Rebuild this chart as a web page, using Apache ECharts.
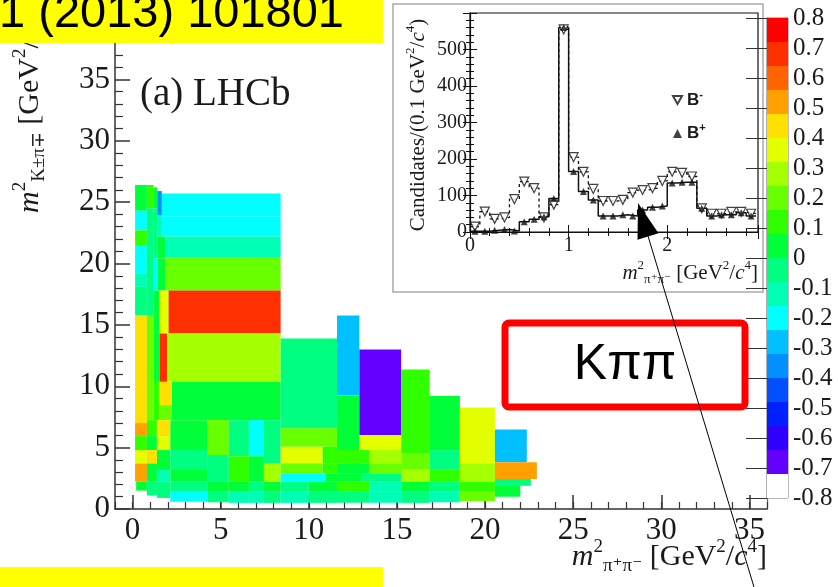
<!DOCTYPE html>
<html>
<head>
<meta charset="utf-8">
<title>LHCb B to K pi pi raw asymmetry</title>
<script src="https://cdn.jsdelivr.net/npm/echarts@6/dist/echarts.min.js"></script>
<style>
  html, body { margin: 0; padding: 0; background: #fff; }
  #chart { width: 838px; height: 587px; }
</style>
</head>
<body>
<div id="chart"></div>
<script>
// Dalitz plot bins: [m2(pi pi) low, m2(pi pi) high, m2(K pi) low, m2(K pi) high, raw asymmetry]
var dalitzBins = [
  [0.14, 0.81, 24.3, 26.4, 0.06],
  [0.14, 0.81, 22.7, 24.3, -0.2],
  [0.14, 0.81, 21.5, 22.7, 0.1],
  [0.14, 0.81, 19.2, 21.5, -0.2],
  [0.14, 0.81, 18.1, 19.2, -0.1],
  [0.14, 0.81, 15.8, 18.1, -0.06],
  [0.14, 0.81, 11.0, 15.8, 0.44],
  [0.14, 0.81, 7.0, 11.0, 0.42],
  [0.14, 0.81, 5.94, 7.0, 0.53],
  [0.14, 0.81, 4.8, 5.94, 0.1],
  [0.14, 0.81, 3.71, 4.8, 0.38],
  [0.14, 0.81, 2.22, 3.71, 0.53],
  [0.2, 0.81, 1.5, 2.22, 0.02],
  [0.81, 1.19, 24.5, 26.4, 0.1],
  [0.81, 1.19, 15.8, 24.5, -0.02],
  [0.81, 1.19, 7.24, 15.8, 0.18],
  [0.81, 1.38, 5.94, 7.24, 0.12],
  [0.81, 1.38, 4.8, 5.94, 0.06],
  [0.81, 1.38, 3.71, 4.8, 0.44],
  [0.81, 1.38, 2.22, 3.71, 0.06],
  [0.81, 1.38, 1.1, 2.22, -0.04],
  [1.19, 1.4, 24.5, 26.2, 0.06],
  [1.19, 1.4, 20.4, 24.5, -0.06],
  [1.19, 1.4, 17.8, 20.4, -0.18],
  [1.19, 1.53, 10.36, 17.8, 0.04],
  [1.19, 1.53, 7.24, 10.36, 0.1],
  [1.4, 1.66, 23.9, 25.9, -0.36],
  [1.4, 1.66, 22.2, 23.9, -0.12],
  [1.4, 1.85, 20.4, 22.2, 0.05],
  [1.4, 1.85, 17.8, 20.4, 0.02],
  [1.53, 2.04, 14.3, 17.8, 0.38],
  [1.53, 1.95, 10.36, 14.3, 0.68],
  [1.53, 2.23, 8.46, 10.36, 0.44],
  [1.53, 2.23, 7.24, 8.46, 0.22],
  [1.38, 2.14, 5.94, 7.24, 0.44],
  [1.38, 2.14, 4.8, 5.94, 0.34],
  [1.38, 2.14, 3.17, 4.8, 0.06],
  [1.38, 2.14, 2.22, 3.17, -0.1],
  [1.38, 2.14, 0.9, 2.22, -0.04],
  [1.66, 8.4, 23.8, 25.7, -0.2],
  [1.66, 8.4, 22.2, 23.8, -0.22],
  [1.85, 8.4, 20.5, 22.2, -0.14],
  [1.85, 8.4, 17.8, 20.5, 0.19],
  [2.04, 8.4, 14.3, 17.8, 0.68],
  [1.95, 8.4, 10.36, 14.3, 0.26],
  [2.23, 8.4, 8.3, 10.36, 0.07],
  [2.23, 8.4, 7.24, 8.3, 0.05],
  [2.14, 4.23, 5.94, 7.24, 0.07],
  [2.14, 4.23, 4.8, 5.94, 0.06],
  [2.14, 4.23, 3.17, 4.8, -0.08],
  [2.14, 4.23, 2.22, 3.17, 0.06],
  [2.14, 4.23, 1.45, 2.22, -0.06],
  [2.14, 4.23, 0.6, 1.45, -0.18],
  [4.23, 5.46, 4.4, 7.24, 0.2],
  [4.23, 5.46, 2.22, 4.4, -0.08],
  [4.23, 5.46, 1.45, 2.22, 0.04],
  [4.23, 5.46, 0.55, 1.45, -0.04],
  [5.46, 6.6, 4.3, 7.24, -0.04],
  [5.46, 6.6, 2.22, 4.3, 0.08],
  [5.46, 6.6, 1.45, 2.22, 0.02],
  [5.46, 6.6, 0.5, 1.45, -0.12],
  [6.6, 7.45, 4.3, 7.24, -0.18],
  [6.6, 7.45, 2.22, 4.3, 0.06],
  [6.6, 7.45, 1.45, 2.22, -0.02],
  [6.6, 7.45, 0.5, 1.45, -0.1],
  [7.45, 8.4, 3.71, 7.24, -0.04],
  [7.45, 8.4, 2.22, 3.71, 0.28],
  [7.45, 8.4, 1.45, 2.22, 0.02],
  [7.45, 8.4, 0.5, 1.45, -0.06],
  [8.4, 11.6, 6.57, 13.9, -0.04],
  [8.4, 11.6, 5.08, 6.57, 0.2],
  [8.4, 10.78, 3.72, 5.08, 0.36],
  [10.78, 11.6, 3.72, 5.08, 0.08],
  [8.4, 10.78, 2.9, 3.72, 0.2],
  [10.78, 11.6, 2.9, 3.72, 0.08],
  [8.4, 10.95, 2.22, 2.9, -0.2],
  [10.95, 11.6, 2.22, 2.9, 0.04],
  [8.4, 10.0, 1.45, 2.22, -0.04],
  [10.0, 11.6, 1.45, 2.22, 0.04],
  [8.4, 10.0, 0.5, 1.45, -0.12],
  [10.0, 11.6, 0.5, 1.45, -0.06],
  [11.6, 12.87, 9.27, 15.77, -0.28],
  [11.6, 12.87, 4.8, 9.27, 0.06],
  [11.6, 13.44, 3.72, 4.8, 0.08],
  [11.6, 13.44, 2.9, 3.72, 0.06],
  [11.6, 13.0, 2.22, 2.9, 0.02],
  [11.6, 13.44, 1.45, 2.22, 0.1],
  [11.6, 13.44, 0.5, 1.45, -0.04],
  [12.87, 15.24, 6.02, 13.0, -0.68],
  [12.87, 15.24, 4.8, 6.02, 0.36],
  [13.44, 15.24, 3.72, 4.8, 0.26],
  [13.44, 15.24, 2.9, 3.72, 0.22],
  [13.0, 15.24, 2.22, 2.9, -0.04],
  [13.44, 15.24, 1.45, 2.22, -0.1],
  [13.44, 15.24, 0.5, 1.45, -0.14],
  [15.24, 16.86, 4.53, 11.36, 0.08],
  [15.24, 16.86, 3.2, 4.53, 0.2],
  [15.24, 16.86, 2.22, 3.2, 0.26],
  [15.24, 16.86, 1.45, 2.22, 0.04],
  [15.24, 16.86, 0.5, 1.45, -0.02],
  [16.86, 18.57, 4.8, 9.2, 0.02],
  [16.86, 18.57, 3.2, 4.8, -0.02],
  [16.86, 18.57, 2.22, 3.2, 0.1],
  [16.86, 18.57, 1.45, 2.22, -0.06],
  [16.86, 18.57, 0.55, 1.45, -0.1],
  [18.57, 20.56, 3.72, 8.27, 0.36],
  [18.57, 20.56, 2.22, 3.72, 0.26],
  [18.57, 20.56, 1.45, 2.22, 0.12],
  [18.57, 20.56, 0.65, 1.45, 0.16],
  [20.56, 22.37, 3.8, 6.48, -0.28],
  [20.56, 22.94, 2.44, 3.8, 0.5],
  [20.56, 22.6, 1.9, 2.44, -0.04],
  [20.56, 22.0, 1.0, 1.9, 0.04]
]

// colour palette levels of the z axis
var paletteEdges = [-0.8, -0.72, -0.64, -0.56, -0.48, -0.4, -0.32, -0.24, -0.16, -0.08, 0,
  0.08, 0.16, 0.24, 0.32, 0.4, 0.48, 0.56, 0.64, 0.72, 0.8]
var paletteColors = ['#ffffff', '#6400ff', '#3000ff', '#0020ff', '#0050ff', '#0090ff', '#00c0ff',
  '#00ffff', '#00ffb4', '#00ff80', '#00ff38', '#30ff00', '#68ff00', '#a4ff00', '#e4ff00',
  '#ffe000', '#ffa000', '#ff6400', '#ff3000', '#ff0000']

var xTickValues = [0, 5, 10, 15, 20, 25, 30, 35]

// inset: m2(pi+ pi-) projection, bins of 0.1 GeV2/c4
var insetBinEdges = [0, 0.1, 0.2, 0.3, 0.4, 0.5, 0.6, 0.7, 0.8, 0.9, 1.0, 1.1, 1.2, 1.3, 1.4,
  1.5, 1.6, 1.7, 1.8, 1.9, 2.0, 2.1, 2.2, 2.3, 2.4, 2.5, 2.6, 2.7, 2.8, 2.9]
var bMinusCounts = [15, 56, 36, 40, 90, 138, 120, 40, 75, 555, 205, 165, 118, 85, 85, 88, 108,
  115, 120, 140, 165, 162, 152, 65, 50, 50, 55, 55, 50]
var bPlusCounts = [2, 2, 5, 7, 3, 28, 35, 42, 92, 560, 166, 111, 88, 44, 44, 47, 44, 60, 68, 71,
  134, 136, 136, 65, 44, 47, 47, 53, 44]

var SERIF = '"Liberation Serif", "DejaVu Serif", serif'
var SANS = '"Liberation Sans", Arial, sans-serif'
var INK = '#1a1a1a'

function renderBin (params, api) {
  var topLeft = api.coord([api.value(0), api.value(3)])
  var bottomRight = api.coord([api.value(1), api.value(2)])
  return {
    type: 'rect',
    shape: {
      x: topLeft[0],
      y: topLeft[1],
      width: bottomRight[0] - topLeft[0],
      height: bottomRight[1] - topLeft[1]
    },
    style: { fill: api.visual('color') }
  }
}

function stepPoints (counts) {
  var pts = counts.map(function (c, i) { return [insetBinEdges[i], c] })
  pts.push([insetBinEdges[counts.length], counts[counts.length - 1]])
  return pts
}

function binCentres (counts) {
  return counts.map(function (c, i) {
    return [(insetBinEdges[i] + insetBinEdges[i + 1]) / 2, c]
  })
}

var paletteBins = paletteColors.map(function (c, i) {
  return [0, 1, paletteEdges[i], paletteEdges[i + 1], (paletteEdges[i] + paletteEdges[i + 1]) / 2]
})

var pieces = paletteColors.map(function (c, i) {
  var p = { gte: paletteEdges[i], color: c }
  if (i === paletteColors.length - 1) p.lte = paletteEdges[i + 1]
  else p.lt = paletteEdges[i + 1]
  return p
})

function mathRich (size) {
  var lh = Math.round(size * 1.27)
  var small = Math.round(size * 0.62)
  return {
    it: { fontFamily: SERIF, fontStyle: 'italic', fontSize: size, lineHeight: lh, fill: INK },
    rm: { fontFamily: SERIF, fontSize: size, lineHeight: lh, fill: INK },
    sup: { fontFamily: SERIF, fontSize: small, lineHeight: small, verticalAlign: 'top', fill: INK },
    sub: { fontFamily: SERIF, fontSize: small, lineHeight: small, verticalAlign: 'bottom', fill: INK }
  }
}

function mathText (x, y, text, size, align, rotation) {
  return {
    type: 'text',
    x: x,
    y: y,
    rotation: rotation || 0,
    z: 10,
    style: {
      text: text,
      align: align,
      verticalAlign: 'middle',
      fontFamily: SERIF,
      fontSize: size,
      fill: INK,
      rich: mathRich(size)
    }
  }
}

var tickLabel = function (size) {
  return { fontFamily: SERIF, fontSize: size, color: INK }
}

var chart = echarts.init(document.getElementById('chart'))

chart.setOption({
  animation: false,
  backgroundColor: '#fff',
  grid: [
    { left: 115, top: 18, width: 652, height: 491, show: false },
    { left: 470, top: 13, width: 288, height: 219, show: true, borderColor: '#111', borderWidth: 1.2 },
    { left: 767, top: 18, width: 21, height: 480, show: true, borderColor: '#777', borderWidth: 1 }
  ],
  xAxis: [
    {
      gridIndex: 0, type: 'value', min: -1, max: 36,
      axisLine: { show: true, onZero: false, lineStyle: { color: '#333', width: 1.5 } },
      axisTick: { show: true, inside: true, length: 14, customValues: xTickValues, lineStyle: { color: '#333', width: 1.5 } },
      axisLabel: { customValues: xTickValues, margin: 6, ...tickLabel(31) },
      splitLine: { show: false }
    },
    {
      gridIndex: 0, type: 'value', min: -1, max: 36, interval: 1, position: 'bottom',
      axisLine: { show: false },
      axisTick: { show: true, inside: true, length: 7, lineStyle: { color: '#333', width: 1.2 } },
      axisLabel: { show: false },
      splitLine: { show: false }
    },
    {
      gridIndex: 1, type: 'value', min: 0, max: 2.92, interval: 1, position: 'bottom',
      axisLine: { show: true, onZero: false, lineStyle: { color: '#111', width: 1.2 } },
      axisTick: { show: true, inside: true, length: 7, lineStyle: { color: '#111' } },
      minorTick: { show: true, splitNumber: 5, length: 4, lineStyle: { color: '#111' } },
      axisLabel: { margin: 4, formatter: function (v) { return v <= 2 ? v : '' }, ...tickLabel(20) },
      splitLine: { show: false }
    },
    {
      gridIndex: 1, type: 'value', min: 0, max: 2.92, interval: 1, position: 'top',
      axisLine: { show: false },
      axisTick: { show: true, inside: true, length: 7, lineStyle: { color: '#111' } },
      minorTick: { show: true, splitNumber: 5, length: 4, lineStyle: { color: '#111' } },
      axisLabel: { show: false },
      splitLine: { show: false }
    },
    { gridIndex: 2, type: 'value', min: 0, max: 1, show: false }
  ],
  yAxis: [
    {
      gridIndex: 0, type: 'value', min: 0, max: 40, interval: 5,
      axisLine: { show: true, onZero: false, lineStyle: { color: '#333', width: 1.5 } },
      axisTick: { show: true, inside: true, length: 15, lineStyle: { color: '#333', width: 1.5 } },
      minorTick: { show: true, splitNumber: 5, length: 8, lineStyle: { color: '#333', width: 1.2 } },
      axisLabel: { margin: 5, formatter: function (v) { return v <= 35 ? v : '' }, ...tickLabel(31) },
      splitLine: { show: false }
    },
    {
      gridIndex: 0, type: 'value', min: 0, max: 40, position: 'right',
      axisLine: { show: true, onZero: false, lineStyle: { color: '#666', width: 1.2 } },
      axisTick: { show: false },
      axisLabel: { show: false },
      splitLine: { show: false }
    },
    {
      gridIndex: 1, type: 'value', min: 0, max: 600, interval: 100,
      axisLine: { show: true, onZero: false, lineStyle: { color: '#111', width: 1.2 } },
      axisTick: { show: true, inside: true, length: 7, lineStyle: { color: '#111' } },
      minorTick: { show: true, splitNumber: 5, length: 4, lineStyle: { color: '#111' } },
      axisLabel: { margin: 3, formatter: function (v) { return v <= 500 ? v : '' }, ...tickLabel(20) },
      splitLine: { show: false }
    },
    {
      gridIndex: 1, type: 'value', min: 0, max: 600, interval: 100, position: 'right',
      axisLine: { show: false },
      axisTick: { show: true, inside: true, length: 7, lineStyle: { color: '#111' } },
      minorTick: { show: true, splitNumber: 5, length: 4, lineStyle: { color: '#111' } },
      axisLabel: { show: false },
      splitLine: { show: false }
    },
    {
      gridIndex: 2, type: 'value', min: -0.8, max: 0.8, interval: 0.1, position: 'right',
      axisLine: { show: true, lineStyle: { color: '#777', width: 1 } },
      axisTick: { show: true, inside: true, length: 21, lineStyle: { color: '#333', width: 1 } },
      axisLabel: {
        margin: 5,
        formatter: function (v) { return Math.abs(v) < 1e-6 ? '0' : v.toFixed(1) },
        ...tickLabel(25)
      },
      splitLine: { show: false }
    }
  ],
  visualMap: {
    type: 'piecewise',
    show: false,
    dimension: 4,
    seriesIndex: [0, 1],
    pieces: pieces
  },
  legend: {
    data: [
      { name: 'B-', icon: 'path://M0,0 L10,0 L5,9 Z' },
      { name: 'B+', icon: 'triangle' }
    ],
    orient: 'vertical',
    left: 667,
    top: 84,
    itemGap: 14,
    itemWidth: 9,
    itemHeight: 9,
    selectedMode: false,
    formatter: function (name) {
      return name === 'B-' ? '{b|B}{s|-}' : '{b|B}{s|+}'
    },
    textStyle: {
      rich: {
        b: { fontFamily: SANS, fontWeight: 'bold', fontSize: 17, lineHeight: 22, color: INK },
        s: { fontFamily: SANS, fontWeight: 'bold', fontSize: 11, lineHeight: 11, verticalAlign: 'top', color: INK }
      }
    }
  },
  series: [
    {
      type: 'custom', name: 'Araw', xAxisIndex: 0, yAxisIndex: 0,
      renderItem: renderBin, encode: { x: [0, 1], y: [2, 3] }, data: dalitzBins, silent: true
    },
    {
      type: 'custom', name: 'palette', xAxisIndex: 4, yAxisIndex: 4,
      renderItem: renderBin, encode: { x: [0, 1], y: [2, 3] }, data: paletteBins, silent: true
    },
    {
      type: 'line', name: 'B- hist', xAxisIndex: 2, yAxisIndex: 2, step: 'end',
      data: stepPoints(bMinusCounts), symbol: 'none',
      lineStyle: { color: '#111', width: 1.3, type: [3, 3] }
    },
    {
      type: 'line', name: 'B+ hist', xAxisIndex: 2, yAxisIndex: 2, step: 'end',
      data: stepPoints(bPlusCounts), symbol: 'none',
      lineStyle: { color: '#111', width: 1.5 }
    },
    {
      type: 'scatter', name: 'B-', xAxisIndex: 2, yAxisIndex: 2,
      symbol: 'triangle', symbolRotate: 180, symbolSize: 9,
      itemStyle: { color: '#fff', borderColor: '#111', borderWidth: 1.2 },
      data: binCentres(bMinusCounts), z: 4
    },
    {
      type: 'scatter', name: 'B+', xAxisIndex: 2, yAxisIndex: 2,
      symbol: 'triangle', symbolSize: 7,
      itemStyle: { color: '#111' },
      data: binCentres(bPlusCounts), z: 5
    }
  ],
  graphic: [
    // inset pad
    {
      type: 'rect', z: -1,
      shape: { x: 393, y: 4, width: 370, height: 288 },
      style: { fill: '#fff', stroke: '#aaa', lineWidth: 1.5 }
    },
    mathText(30, 213, '{it|m}{sup|2}{sub|K±π∓} {rm|[GeV}{sup|2}{rm|/}{it|c}{sup|4}{rm|]}', 30, 'left', Math.PI / 2),
    mathText(767, 557, '{it|m}{sup|2}{sub|π⁺π⁻} {rm|[GeV}{sup|2}{rm|/}{it|c}{sup|4}{rm|]}', 30, 'right'),
    mathText(418, 125, '{rm|Candidates/(0.1 GeV}{sup|2}{rm|/}{it|c}{sup|4}{rm|)}', 21, 'center', Math.PI / 2),
    mathText(758, 273, '{it|m}{sup|2}{sub|π⁺π⁻} {rm|[GeV}{sup|2}{rm|/}{it|c}{sup|4}{rm|]}', 21, 'right'),
    {
      type: 'text', x: 140, y: 95, z: 10,
      style: { text: '(a) LHCb', align: 'left', verticalAlign: 'middle', fontFamily: SERIF, fontSize: 39, fill: INK }
    },
    // yellow citation boxes
    { type: 'rect', z: 100, shape: { x: 0, y: 0, width: 383, height: 43 }, style: { fill: '#ffff00' } },
    {
      type: 'text', x: 344, y: 14, z: 101,
      style: { text: '1 (2013) 101801', align: 'right', verticalAlign: 'middle', fontFamily: SANS, fontSize: 47, fill: '#000' }
    },
    { type: 'rect', z: 100, shape: { x: 0, y: 567, width: 383, height: 25 }, style: { fill: '#ffff00' } },
    // red label box
    {
      type: 'rect', z: 100,
      shape: { x: 505, y: 323, width: 240, height: 84, r: 4 },
      style: { fill: '#fff', stroke: '#ff0000', lineWidth: 7 }
    },
    {
      type: 'text', x: 625, y: 365, z: 101,
      style: { text: 'Kππ', align: 'center', verticalAlign: 'middle', fontFamily: SANS, fontSize: 50, fill: '#000' }
    },
    // arrow
    {
      type: 'line', z: 102,
      shape: { x1: 757, y1: 597, x2: 648, y2: 236 },
      style: { stroke: '#000', lineWidth: 1 }
    },
    {
      type: 'polygon', z: 102,
      shape: { points: [[638, 203], [658.5, 233.3], [637.5, 239.7]] },
      style: { fill: '#000' }
    }
  ]
})
</script>
</body>
</html>
